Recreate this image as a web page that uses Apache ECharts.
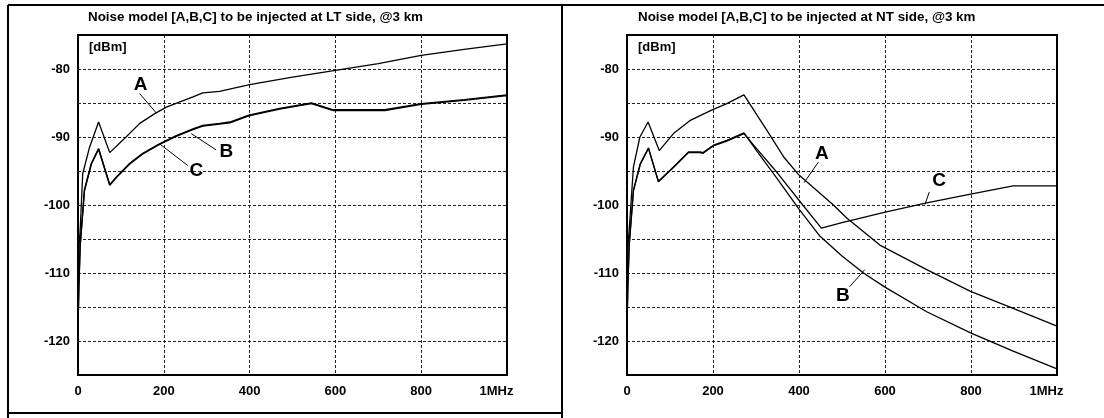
<!DOCTYPE html>
<html>
<head>
<meta charset="utf-8">
<script src="https://cdn.jsdelivr.net/npm/echarts@6/dist/echarts.min.js"></script>
<style>
  html, body { margin: 0; padding: 0; background: #fff; }
  #chart { width: 1104px; height: 418px; }
</style>
</head>
<body>
<div id="chart"></div>
<script>
// x: kHz (0..1000 = 1MHz), y: dBm
const xTicks = [0, 200, 400, 600, 800, 1000];

// LT side
const ltA_f  = [0, 5, 11, 27, 48, 74, 112, 144, 178, 206, 268, 291, 330, 400, 500, 600, 700, 800, 900, 1000];
const ltA_db = [-108, -103.7, -95.4, -91.5, -87.8, -92.3, -90, -88, -86.6, -85.6, -84.1, -83.5, -83.3, -82.3, -81.2, -80.2, -79.2, -78.0, -77.1, -76.3];

const ltB_f  = [0, 2, 5, 15, 31, 48, 74, 89, 120, 151, 190, 229, 268, 291, 330, 354, 398, 470, 544, 595, 715, 800, 900, 1000];
const ltB_db = [-118, -112, -106, -97.8, -93.9, -91.7, -97, -95.9, -93.9, -92.4, -91, -89.8, -88.8, -88.3, -88, -87.8, -86.8, -85.8, -85, -86, -86, -85.1, -84.5, -83.8];

const ltC_f  = [0, 2, 5, 15, 31, 48, 74, 89, 120, 151, 190, 229, 268, 291, 330, 354, 398, 470, 544, 595, 715, 800, 900, 1000];
const ltC_db = [-118, -112, -106, -97.9, -94.0, -91.8, -97.1, -96.0, -94.0, -92.5, -91.1, -89.9, -88.9, -88.4, -88.1, -87.9, -86.9, -85.9, -85.1, -86.1, -86.1, -85.2, -84.6, -83.9];

// NT side
const ntA_f  = [0, 5, 15, 30, 49, 75, 108, 146, 198, 232, 272, 325, 364, 400, 480, 511, 588, 697, 799, 898, 1000];
const ntA_db = [-108, -103.7, -94.4, -90, -87.8, -92, -89.5, -87.6, -86, -85.1, -83.8, -89, -92.9, -95.6, -100, -101.9, -105.9, -109.5, -112.7, -115.2, -117.8];

const ntB_f  = [0, 2, 5, 15, 31, 50, 73, 108, 143, 170, 177, 201, 232, 272, 300, 350, 400, 449, 500, 550, 598, 697, 799, 898, 1000];
const ntB_db = [-118, -112, -106, -97.8, -93.9, -91.6, -96.5, -94.4, -92.2, -92.2, -92.3, -91.2, -90.5, -89.4, -91.9, -96.2, -100.6, -104.6, -107.5, -110, -112, -115.7, -118.8, -121.5, -124.1];

const ntC_f  = [0, 2, 5, 15, 31, 50, 73, 108, 143, 170, 177, 201, 232, 272, 300, 350, 400, 452, 500, 598, 697, 799, 898, 1000];
const ntC_db = [-118, -112, -106, -97.9, -94.0, -91.7, -96.6, -94.5, -92.3, -92.3, -92.4, -91.3, -90.6, -89.5, -91.6, -95.3, -99.3, -103.4, -102.6, -101.1, -99.7, -98.4, -97.2, -97.2];

// curve letters, in data coords: text spot, leader line start/end
const ltLabels = [
  { name: 'A', at: [146, -82.3], from: [143.5, -83.6], to: [183, -86.5] },
  { name: 'B', at: [346, -92.2], from: [322, -91.9], to: [264, -89.5] },
  { name: 'C', at: [276, -95.0], from: [256, -94.2], to: [190, -91.0] }
];
const ntLabels = [
  { name: 'A', at: [453, -92.4], from: [445, -93.7], to: [412, -96.7] },
  { name: 'B', at: [502, -113.4], from: [518, -112], to: [553, -109.5] },
  { name: 'C', at: [726, -96.5], from: [703, -98.1], to: [693, -99.9] }
];

const FONT = '"Liberation Sans", Arial, Helvetica, sans-serif';

function pairs(f, v) {
  return f.map((x, i) => [x, v[i]]);
}

function makeAxes(gi) {
  const x = {
    type: 'value', gridIndex: gi, min: 0, max: 1000, interval: 200,
    axisLine: { show: false }, axisTick: { show: false },
    splitLine: { show: true, showMinLine: false, showMaxLine: false,
      lineStyle: { color: '#222', width: 1, type: [3, 2] } },
    axisLabel: {
      margin: 10, color: '#000', fontFamily: FONT, fontWeight: 'bold', fontSize: 13,
      formatter: v => v === 1000 ? '{m|1MHz}' : String(v),
      rich: { m: { fontFamily: FONT, fontWeight: 'bold', fontSize: 13, color: '#000', padding: [0, 21, 0, 0] } }
    }
  };
  const y = {
    type: 'value', gridIndex: gi, min: -125, max: -75, interval: 5,
    axisLine: { show: false }, axisTick: { show: false },
    splitLine: { show: true, showMinLine: false, showMaxLine: false,
      lineStyle: { color: '#222', width: 1, type: [3, 2] } },
    axisLabel: {
      margin: 8, color: '#000', fontFamily: FONT, fontWeight: 'bold', fontSize: 13,
      formatter: v => (v % 10 === 0 ? String(v) : '')
    }
  };
  return [x, y];
}

function curve(gi, f, v, width, lab) {
  const s = {
    type: 'line', xAxisIndex: gi, yAxisIndex: gi,
    data: pairs(f, v), showSymbol: false, symbol: 'none',
    lineStyle: { color: '#000', width: width }, silent: true, animation: false
  };
  if (lab) {
    s.markLine = {
      silent: true, symbol: ['none', 'none'], animation: false,
      label: { show: false },
      lineStyle: { color: '#000', width: 1, type: 'solid' },
      data: [[{ coord: lab.from }, { coord: lab.to }]]
    };
    s.markPoint = {
      silent: true, animation: false, symbol: 'rect', symbolSize: 1,
      itemStyle: { color: 'rgba(0,0,0,0)' },
      label: { show: true, position: 'inside', formatter: lab.name,
        fontFamily: FONT, fontWeight: 'bold', fontSize: 19, color: '#000' },
      data: [{ coord: lab.at }]
    };
  }
  return s;
}

const axL = makeAxes(0), axR = makeAxes(1);
const frame = { stroke: '#000', lineWidth: 2 };
const small = 'bold 13px ' + FONT;

const option = {
  animation: false,
  grid: [
    { left: 78, top: 35, width: 429, height: 340, show: true, borderColor: '#000', borderWidth: 2, backgroundColor: 'transparent' },
    { left: 627, top: 35, width: 430, height: 340, show: true, borderColor: '#000', borderWidth: 2, backgroundColor: 'transparent' }
  ],
  xAxis: [axL[0], axR[0]],
  yAxis: [axL[1], axR[1]],
  series: [
    curve(0, ltA_f, ltA_db, 1.3, ltLabels[0]),
    curve(0, ltB_f, ltB_db, 1.4, ltLabels[1]),
    curve(0, ltC_f, ltC_db, 1.4, ltLabels[2]),
    curve(1, ntA_f, ntA_db, 1.3, ntLabels[0]),
    curve(1, ntB_f, ntB_db, 1.3, ntLabels[1]),
    curve(1, ntC_f, ntC_db, 1.3, ntLabels[2])
  ],
  graphic: [
    { type: 'line', shape: { x1: 8, y1: 5, x2: 1104, y2: 5 }, style: frame },
    { type: 'line', shape: { x1: 8, y1: 5, x2: 8, y2: 418 }, style: frame },
    { type: 'line', shape: { x1: 562, y1: 5, x2: 562, y2: 418 }, style: frame },
    { type: 'line', shape: { x1: 8, y1: 413, x2: 562, y2: 413 }, style: frame },
    { type: 'text', left: 88, top: 11, style: { text: 'Noise model [A,B,C] to be injected at LT side, @3 km', font: 'bold 13.4px ' + FONT, fill: '#000' } },
    { type: 'text', left: 638, top: 11, style: { text: 'Noise model [A,B,C] to be injected at NT side, @3 km', font: 'bold 13.4px ' + FONT, fill: '#000' } },
    { type: 'text', left: 89, top: 41, style: { text: '[dBm]', font: small, fill: '#000' } },
    { type: 'text', left: 638, top: 41, style: { text: '[dBm]', font: small, fill: '#000' } }
  ]
};

const chart = echarts.init(document.getElementById('chart'));
chart.setOption(option);
</script>
</body>
</html>
